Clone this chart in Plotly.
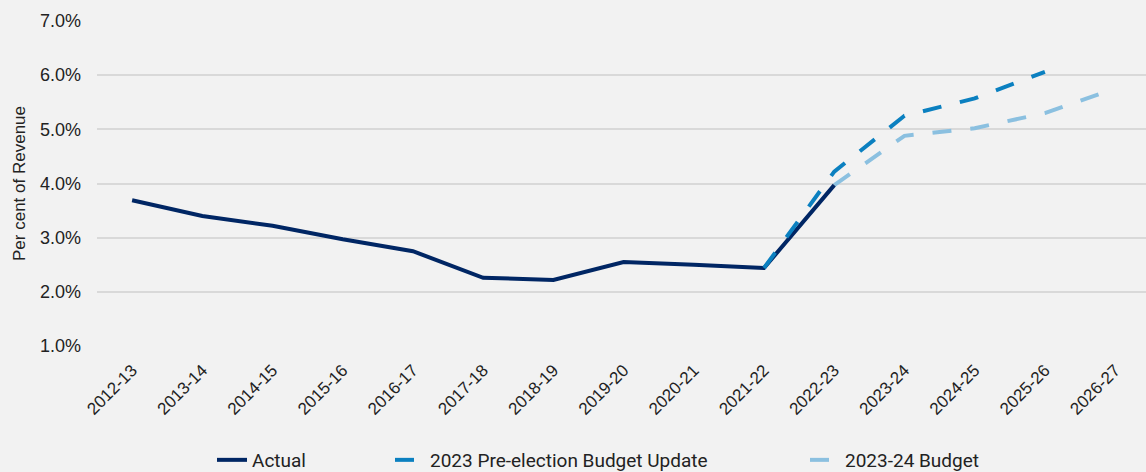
import plotly.graph_objects as go

years = ["2012-13", "2013-14", "2014-15", "2015-16", "2016-17", "2017-18", "2018-19",
         "2019-20", "2020-21", "2021-22", "2022-23", "2023-24", "2024-25", "2025-26", "2026-27"]

actual_years = years[:11]
actual = [3.69, 3.40, 3.22, 2.97, 2.75, 2.26, 2.22, 2.55, 2.50, 2.44, 3.97]

pebu_years = years[9:14]
pebu = [2.44, 4.22, 5.25, 5.57, 6.06]

budget_years = years[10:15]
budget = [3.97, 4.88, 5.02, 5.30, 5.75]

y_ticks = [1, 2, 3, 4, 5, 6, 7]
y_ticktext = ["1.0%", "2.0%", "3.0%", "4.0%", "5.0%", "6.0%", "7.0%"]

W, H = 1146, 472
DASH = "19px,19px"

fig = go.Figure()
fig.add_trace(go.Scatter(x=budget_years, y=budget, mode="lines", name="2023-24 Budget",
                         line=dict(color="#8BC0E0", width=4, dash=DASH), legend="legend3"))
fig.add_trace(go.Scatter(x=actual_years, y=actual, mode="lines", name="Actual",
                         line=dict(color="#002664", width=4), legend="legend"))
fig.add_trace(go.Scatter(x=pebu_years, y=pebu, mode="lines", name="2023 Pre-election Budget Update",
                         line=dict(color="#0B80C0", width=4, dash=DASH), legend="legend2"))

leg_font = dict(family="Roboto, sans-serif", size=19, color="#222222")
def leg(px):
    return dict(orientation="h", xref="container", yref="container",
                x=px / W, xanchor="left", y=1 - 460 / H, yanchor="middle",
                font=leg_font, bgcolor="rgba(0,0,0,0)", borderwidth=0)

fig.update_layout(
    width=W, height=H,
    paper_bgcolor="#F2F2F2", plot_bgcolor="#F2F2F2",
    margin=dict(l=97, r=0, t=21, b=126),
    font=dict(family="Liberation Sans, Arial, sans-serif", size=18, color="#222222"),
    showlegend=True,
    legend=leg(212),
    legend2=leg(390),
    legend3=leg(805),
    xaxis=dict(type="category", categoryorder="array", categoryarray=years,
               range=[-0.5, 14.44], tickangle=-45, showgrid=False, showline=False,
               ticks="", ticklabelstandoff=10, tickfont=dict(size=17, color="#222222")),
    yaxis=dict(range=[1, 7], tickvals=y_ticks, ticktext=y_ticktext, showgrid=True,
               gridcolor="#D9D9D9", gridwidth=1.5, zeroline=False, showline=False,
               ticks="", ticklen=0, ticklabelstandoff=15, tickfont=dict(size=18, color="#222222"),
               title=dict(text="Per cent of Revenue", font=dict(size=17, color="#222222"), standoff=10)),
)

fig.write_html("out.html", config={"displayModeBar": False},
               post_script="document.body.style.margin='0px';document.body.style.overflow='hidden';")
